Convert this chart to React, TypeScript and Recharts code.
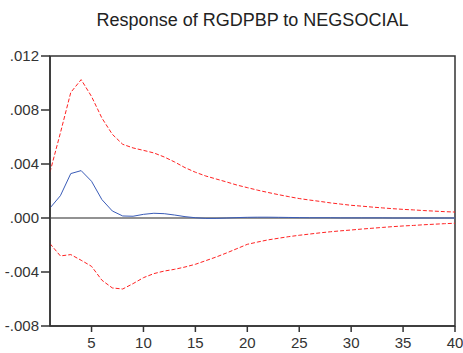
import { LineChart, Line, XAxis, YAxis, ReferenceLine, ReferenceArea } from 'recharts';

const periods = Array.from({ length: 40 }, (_, i) => i + 1);

const response = [
  0.00074, 0.00165, 0.00329, 0.00351, 0.00272, 0.00136, 0.00052, 0.00015, 0.00013, 0.00027,
  0.00035, 0.00032, 0.00022, 0.0001, 0.00002, -0.00003, -0.00003, 0.0, 0.00003, 0.00005,
  0.00006, 0.00006, 0.00005, 0.00004, 0.00003, 0.00002, 0.00002, 0.00002, 0.00001, 0.00001,
  0.00001, 0.00001, 0.00001, 0.0, 0.0, 0.0, 0.0, 0.0, 0.0, 0.0,
];

const upperBand = [
  0.0034, 0.0063, 0.0093, 0.01025, 0.009, 0.0074, 0.0062, 0.00546, 0.00519, 0.00501,
  0.00482, 0.00452, 0.00415, 0.00373, 0.00339, 0.00311, 0.00289, 0.00267, 0.00244, 0.00225,
  0.00206, 0.00189, 0.00173, 0.00158, 0.00144, 0.00133, 0.00123, 0.00112, 0.00103, 0.00094,
  0.00088, 0.00081, 0.00075, 0.00069, 0.00064, 0.0006, 0.00055, 0.00051, 0.00047, 0.00044,
];

const lowerBand = [
  -0.0019, -0.00281, -0.00271, -0.00313, -0.00358, -0.00461, -0.00518, -0.00526, -0.00486, -0.00442,
  -0.00412, -0.00393, -0.0038, -0.00363, -0.00343, -0.00316, -0.00289, -0.00259, -0.00227, -0.00195,
  -0.00178, -0.00162, -0.0015, -0.00138, -0.00128, -0.00119, -0.0011, -0.00102, -0.00095, -0.00089,
  -0.00082, -0.00076, -0.0007, -0.00064, -0.00059, -0.00055, -0.0005, -0.00046, -0.00042, -0.00039,
];

const xTicks = [5, 10, 15, 20, 25, 30, 35, 40];
const yTicks = [-0.008, -0.004, 0, 0.004, 0.008, 0.012];

const data = periods.map((p, i) => ({
  period: p,
  response: response[i],
  upper: upperBand[i],
  lower: lowerBand[i],
}));

const fmtY = (v: number) => {
  const s = Math.abs(v).toFixed(3).replace(/^0/, '');
  return v < 0 ? '-' + s : s;
};

const font = 'Liberation Sans, Arial, Helvetica, sans-serif';

export default function App() {
  return (
    <div style={{ position: 'absolute', left: 0, top: 0, width: 463, height: 353, background: '#fff', fontFamily: font }}>
      <div style={{ position: 'absolute', top: 10, left: 50, width: 405, textAlign: 'center', fontSize: 18, color: '#222' }}>
        Response of RGDPBP to NEGSOCIAL
      </div>
      <LineChart width={463} height={353} data={data} margin={{ top: 56, right: 8, left: 0, bottom: 0 }}>
        <XAxis
          dataKey="period"
          type="number"
          domain={[1, 40]}
          ticks={xTicks}
          interval={0}
          tickSize={6}
          tickMargin={5}
          height={27}
          stroke="#333"
          strokeWidth={1.5}
          tick={{ fontSize: 15, fill: '#333', fontFamily: font }}
        />
        <YAxis
          type="number"
          domain={[-0.008, 0.012]}
          ticks={yTicks}
          interval={0}
          width={50}
          tickSize={9}
          tickMargin={2}
          tickFormatter={fmtY}
          stroke="#333"
          strokeWidth={1.5}
          tick={{ fontSize: 15, fill: '#333', fontFamily: font }}
        />
        <ReferenceArea x1={1} x2={40} y1={-0.008} y2={0.012} fill="none" stroke="#333" strokeWidth={1.5} />
        <ReferenceLine y={0} stroke="#6e6e6e" strokeWidth={1.5} />
        <Line dataKey="upper" stroke="#ff2222" strokeWidth={1} strokeDasharray="4 2" dot={false} isAnimationActive={false} />
        <Line dataKey="lower" stroke="#ff2222" strokeWidth={1} strokeDasharray="4 2" dot={false} isAnimationActive={false} />
        <Line dataKey="response" stroke="#3a5cb8" strokeWidth={1} dot={false} isAnimationActive={false} />
      </LineChart>
    </div>
  );
}
